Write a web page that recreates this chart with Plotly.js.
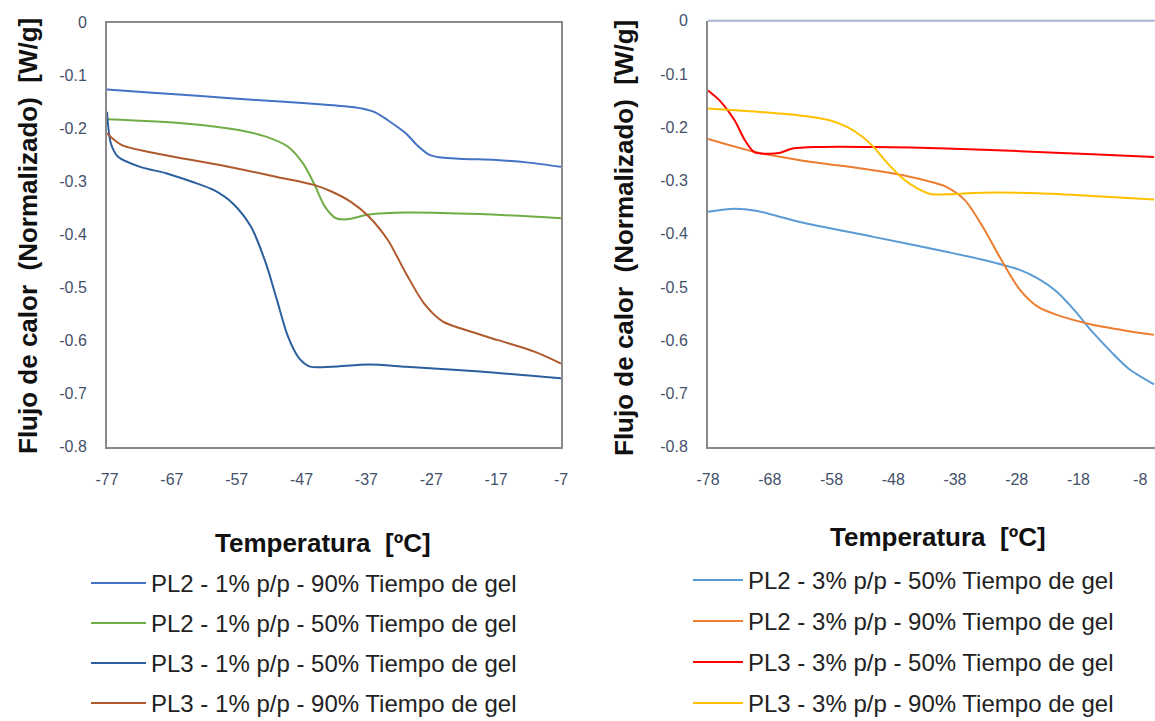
<!DOCTYPE html>
<html>
<head>
<meta charset="utf-8">
<script src="https://cdn.plot.ly/plotly-3.0.1.min.js"></script>
<style>
  html, body { margin: 0; padding: 0; background: #ffffff; overflow: hidden; }
  #chart { width: 1155px; height: 721px; }
</style>
</head>
<body>
<div id="chart"></div>
<script>
// ---- Axis ticks ----
const xTicksLeft = [-77, -67, -57, -47, -37, -27, -17, -7];
const xTicksRight = [-78, -68, -58, -48, -38, -28, -18, -8];
const yTicks = [0, -0.1, -0.2, -0.3, -0.4, -0.5, -0.6, -0.7, -0.8];
const yTickText = ['0', '-0.1', '-0.2', '-0.3', '-0.4', '-0.5', '-0.6', '-0.7', '-0.8'];

// ---- Series names ----
const namesLeft = [
  'PL2 - 1% p/p - 90% Tiempo de gel',
  'PL2 - 1% p/p - 50% Tiempo de gel',
  'PL3 - 1% p/p - 50% Tiempo de gel',
  'PL3 - 1% p/p - 90% Tiempo de gel'
];
const namesRight = [
  'PL2 - 3% p/p - 50% Tiempo de gel',
  'PL2 - 3% p/p - 90% Tiempo de gel',
  'PL3 - 3% p/p - 50% Tiempo de gel',
  'PL3 - 3% p/p - 90% Tiempo de gel'
];

// ---- 1% p/p curves (temperature in °C, heat flow in W/g) ----
const tPL2_1_90 = [-77, -70, -62, -54, -46.3, -40, -37.7, -35.5, -33.7, -30.9, -29.2, -27.5, -25.8, -22, -17, -12, -7];
const qPL2_1_90 = [-0.126, -0.132, -0.139, -0.146, -0.152, -0.158, -0.162, -0.170, -0.184, -0.209, -0.231, -0.248, -0.254, -0.257, -0.259, -0.264, -0.272];

const tPL2_1_50 = [-77, -65, -56.5, -52.5, -49.1, -46.8, -45.1, -43.4, -41.7, -40.0, -36.6, -30.9, -19.5, -7];
const qPL2_1_50 = [-0.182, -0.190, -0.203, -0.215, -0.234, -0.265, -0.303, -0.347, -0.369, -0.371, -0.362, -0.358, -0.361, -0.369];

const tPL3_1_50 = [-77, -76.4, -75.3, -71.9, -67.9, -63.9, -60.5, -57.6, -54.8, -52.5, -50.8, -49.1, -47.4, -45.7, -42.3, -36.6, -30.9, -19.5, -7];
const qPL3_1_50 = [-0.168, -0.228, -0.253, -0.272, -0.284, -0.300, -0.316, -0.341, -0.385, -0.454, -0.523, -0.592, -0.633, -0.649, -0.649, -0.645, -0.649, -0.658, -0.671];

const tPL3_1_90 = [-77, -74.7, -67.9, -59.4, -50.8, -45.1, -42.3, -39.4, -36.6, -33.7, -30.9, -28.1, -25.2, -22.4, -16.7, -11.0, -7];
const qPL3_1_90 = [-0.209, -0.231, -0.250, -0.269, -0.291, -0.306, -0.319, -0.338, -0.366, -0.410, -0.473, -0.530, -0.564, -0.577, -0.599, -0.621, -0.643];

// ---- 3% p/p curves ----
const tPL2_3_50 = [-78, -73.7, -70.2, -63.1, -51.2, -39.4, -33.5, -27.5, -24.6, -21.6, -18.7, -15.7, -12.7, -9.8, -5.75];
const qPL2_3_50 = [-0.359, -0.353, -0.357, -0.378, -0.406, -0.434, -0.449, -0.468, -0.484, -0.508, -0.543, -0.585, -0.622, -0.654, -0.683];

const tPL2_3_90 = [-78, -70.2, -63.1, -51.2, -45.3, -41.8, -39.4, -36.4, -33.5, -30.5, -27.5, -24.6, -21.6, -15.7, -9.8, -5.75];
const qPL2_3_90 = [-0.222, -0.247, -0.262, -0.281, -0.293, -0.303, -0.312, -0.337, -0.387, -0.449, -0.505, -0.537, -0.552, -0.571, -0.583, -0.590];

const tPL3_3_50 = [-78, -76.1, -73.7, -72.0, -70.5, -68.4, -66.3, -64.3, -60.1, -51.2, -39.4, -27.5, -15.7, -5.75];
const qPL3_3_50 = [-0.131, -0.150, -0.187, -0.225, -0.247, -0.250, -0.248, -0.240, -0.237, -0.237, -0.240, -0.245, -0.251, -0.256];

const tPL3_3_90 = [-78, -69.0, -63.1, -58.3, -55.4, -53.0, -51.2, -48.9, -46.5, -44.1, -41.8, -39.4, -33.5, -24.6, -15.7, -5.75];
const qPL3_3_90 = [-0.165, -0.172, -0.178, -0.187, -0.200, -0.218, -0.237, -0.268, -0.296, -0.315, -0.326, -0.326, -0.323, -0.324, -0.329, -0.336];

// ---- Line colours ----
const colorsLeft = ['#4472C4', '#70AD47', '#2C5F9E', '#AE5A2D'];
const colorsRight = ['#5B9BD5', '#ED7D31', '#FF0000', '#FFC000'];

function curve(t, q, name, color, xa, ya, legendId, group) {
  return {
    type: 'scatter', mode: 'lines', x: t, y: q, name: name,
    xaxis: xa, yaxis: ya, legend: legendId, legendgroup: group,
    line: { color: color, width: 2, shape: 'spline', smoothing: 0.8 },
    hoverinfo: 'x+y+name'
  };
}

const traces = [
  curve(tPL2_1_90, qPL2_1_90, namesLeft[0], colorsLeft[0], 'x', 'y', 'legend', 'a1'),
  curve(tPL2_1_50, qPL2_1_50, namesLeft[1], colorsLeft[1], 'x', 'y', 'legend', 'a2'),
  curve(tPL3_1_50, qPL3_1_50, namesLeft[2], colorsLeft[2], 'x', 'y', 'legend', 'a3'),
  curve(tPL3_1_90, qPL3_1_90, namesLeft[3], colorsLeft[3], 'x', 'y', 'legend', 'a4'),
  curve(tPL2_3_50, qPL2_3_50, namesRight[0], colorsRight[0], 'x2', 'y2', 'legend2', 'b1'),
  curve(tPL2_3_90, qPL2_3_90, namesRight[1], colorsRight[1], 'x2', 'y2', 'legend2', 'b2'),
  curve(tPL3_3_50, qPL3_3_50, namesRight[2], colorsRight[2], 'x2', 'y2', 'legend2', 'b3'),
  curve(tPL3_3_90, qPL3_3_90, namesRight[3], colorsRight[3], 'x2', 'y2', 'legend2', 'b4')
];

const W = 1155, H = 721;
const px = v => v / W;          // horizontal pixel -> paper fraction
const py = v => 1 - v / H;      // vertical pixel -> paper fraction

const FONT = '"Liberation Sans", Arial, sans-serif';
const tickFont = { family: FONT, size: 16, color: '#44516A' };
const frame = { showline: true, linecolor: '#8A8A8A', linewidth: 2, showgrid: false, zeroline: false, ticks: '', tickfont: tickFont };

const titleFont = { family: FONT, size: 26, color: '#111111' };
const yTitle = '<b>Flujo de calor  (Normalizado)  [W/g]</b>';
const xTitle = '<b>Temperatura  [ºC]</b>';
const legendFont = { family: FONT, size: 24, color: '#222222' };

const layout = {
  width: W, height: H,
  margin: { l: 0, r: 0, t: 0, b: 0, autoexpand: false },
  paper_bgcolor: '#ffffff', plot_bgcolor: '#ffffff',
  font: { family: FONT },
  xaxis: Object.assign({}, frame, {
    domain: [px(107), px(561)], range: [-77, -7], anchor: 'y', mirror: true,
    tickvals: xTicksLeft, ticktext: xTicksLeft.map(String), ticklabelstandoff: 17
  }),
  yaxis: Object.assign({}, frame, {
    domain: [py(446.7), py(22.7)], range: [-0.8, 0], anchor: 'x', mirror: true,
    tickvals: yTicks, ticktext: yTickText, ticklabelstandoff: 15
  }),
  xaxis2: Object.assign({}, frame, {
    domain: [px(708), 1], range: [-78, -5.6], anchor: 'y2',
    tickvals: xTicksRight, ticktext: xTicksRight.map(String), ticklabelstandoff: 17
  }),
  yaxis2: Object.assign({}, frame, {
    domain: [py(446.7), py(20.7)], range: [-0.8, 0], anchor: 'x2',
    tickvals: yTicks, ticktext: yTickText, ticklabelstandoff: 15
  }),
  shapes: [
    { type: 'line', xref: 'x2 domain', yref: 'y2 domain', x0: 0, x1: 1, y0: 1, y1: 1,
      line: { color: '#A9B7D4', width: 2 } }
  ],
  annotations: [
    { text: yTitle, xref: 'paper', yref: 'paper', x: px(28), y: py(236), textangle: -90,
      showarrow: false, font: titleFont, xanchor: 'center', yanchor: 'middle' },
    { text: yTitle, xref: 'paper', yref: 'paper', x: px(624), y: py(238), textangle: -90,
      showarrow: false, font: titleFont, xanchor: 'center', yanchor: 'middle' },
    { text: xTitle, xref: 'paper', yref: 'paper', x: px(323), y: py(543),
      showarrow: false, font: titleFont, xanchor: 'center', yanchor: 'middle' },
    { text: xTitle, xref: 'paper', yref: 'paper', x: px(938), y: py(537),
      showarrow: false, font: titleFont, xanchor: 'center', yanchor: 'middle' }
  ],
  legend: {
    x: px(86), y: py(561), xanchor: 'left', yanchor: 'top',
    font: legendFont, itemwidth: 55, tracegroupgap: 5.8, traceorder: 'grouped',
    bgcolor: 'rgba(0,0,0,0)'
  },
  legend2: {
    x: px(688), y: py(558), xanchor: 'left', yanchor: 'top',
    font: legendFont, itemwidth: 50, tracegroupgap: 6.8, traceorder: 'grouped',
    bgcolor: 'rgba(0,0,0,0)'
  },
  showlegend: true
};

Plotly.newPlot('chart', traces, layout, { displayModeBar: false, staticPlot: true });
</script>
</body>
</html>
